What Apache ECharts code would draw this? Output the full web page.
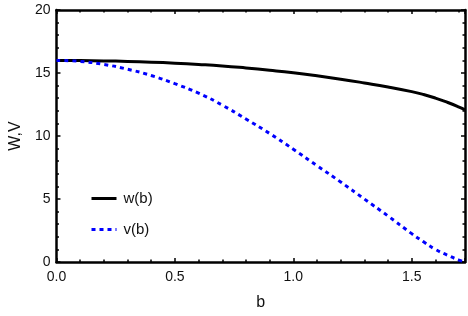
<!DOCTYPE html>
<html><head><meta charset="utf-8">
<script src="https://cdn.jsdelivr.net/npm/echarts@6/dist/echarts.min.js"></script>
<style>html,body{margin:0;padding:0;background:#fff}#c{width:468px;height:316px}</style>
</head><body><div id="c"></div>
<script>
const bValues = [0, 0.1, 0.2, 0.3, 0.4, 0.5, 0.6, 0.7, 0.8, 0.9, 1.0, 1.1, 1.2, 1.3, 1.4, 1.5, 1.55, 1.6, 1.65, 1.7, 1.725];
const wValues = [16.0, 15.99, 15.96, 15.92, 15.86, 15.78, 15.68, 15.56, 15.40, 15.22, 15.02, 14.78, 14.51, 14.21, 13.89, 13.52, 13.29, 13.01, 12.68, 12.30, 12.08];
const vValues = [16.0, 15.92, 15.68, 15.30, 14.80, 14.15, 13.40, 12.45, 11.35, 10.20, 8.95, 7.65, 6.35, 5.00, 3.65, 2.25, 1.60, 1.00, 0.55, 0.15, 0.0];
const xTicks = [0, 0.5, 1.0, 1.5];
const yTicks = [0, 5, 10, 15, 20];
const seriesNames = ['w(b)', 'v(b)'];

const font = 'Liberation Sans, Arial, sans-serif';
const chart = echarts.init(document.getElementById('c'));
const frameX = (pos, labels) => ({
  type: 'value', position: pos, min: 0, max: 1.725, interval: 0.5,
  axisLine: {show: true, onZero: false, lineStyle: {color: '#000', width: 2.5}},
  axisTick: {show: true, inside: true, length: 4, lineStyle: {color: '#000', width: 1.5}},
  minorTick: {show: true, splitNumber: 5, length: 2.5, lineStyle: {color: '#000', width: 1.5}},
  splitLine: {show: false},
  axisLabel: {show: labels, showMaxLabel: false, color: '#111', fontSize: 14, fontFamily: font, margin: 8,
    formatter: v => (xTicks.indexOf(v) >= 0 ? v.toFixed(1) : '')},
  name: labels ? 'b' : '', nameLocation: 'middle', nameGap: 33,
  nameTextStyle: {color: '#111', fontSize: 16, fontFamily: font}
});
const frameY = (pos, labels) => ({
  type: 'value', position: pos, min: 0, max: 20, interval: 5,
  axisLine: {show: true, onZero: false, lineStyle: {color: '#000', width: 2.5}},
  axisTick: {show: true, inside: true, length: 4, lineStyle: {color: '#000', width: 1.5}},
  minorTick: {show: true, splitNumber: 5, length: 2.5, lineStyle: {color: '#000', width: 1.5}},
  splitLine: {show: false},
  axisLabel: {show: labels, color: '#111', fontSize: 14, fontFamily: font, margin: 6,
    formatter: v => (yTicks.indexOf(v) >= 0 ? String(v) : '')},
  name: labels ? 'W,V' : '', nameLocation: 'middle', nameGap: 29, nameRotate: 90,
  nameTextStyle: {color: '#111', fontSize: 16, fontFamily: font}
});
chart.setOption({
  animation: false,
  backgroundColor: '#fff',
  grid: {left: 56, right: 3, top: 10, bottom: 54},
  xAxis: [frameX('bottom', true), frameX('top', false)],
  yAxis: [frameY('left', true), frameY('right', false)],
  legend: {
    orient: 'vertical', left: 85, top: 186, itemGap: 16, itemWidth: 25, itemHeight: 14,
    textStyle: {color: '#111', fontSize: 15, fontFamily: font, padding: [0, 0, 0, 2]},
    itemStyle: {opacity: 0},
    lineStyle: {width: 3},
    data: seriesNames
  },
  series: [
    {name: seriesNames[0], type: 'line', showSymbol: false, symbol: 'none', smooth: true,
     data: bValues.map((b, i) => [b, wValues[i]]),
     lineStyle: {color: '#000', width: 3}, itemStyle: {color: '#000'}},
    {name: seriesNames[1], type: 'line', showSymbol: false, symbol: 'none', smooth: true,
     data: bValues.map((b, i) => [b, vValues[i]]),
     lineStyle: {color: '#0000ff', width: 3, type: [4, 4]}, itemStyle: {color: '#0000ff'}}
  ]
});
</script></body></html>
